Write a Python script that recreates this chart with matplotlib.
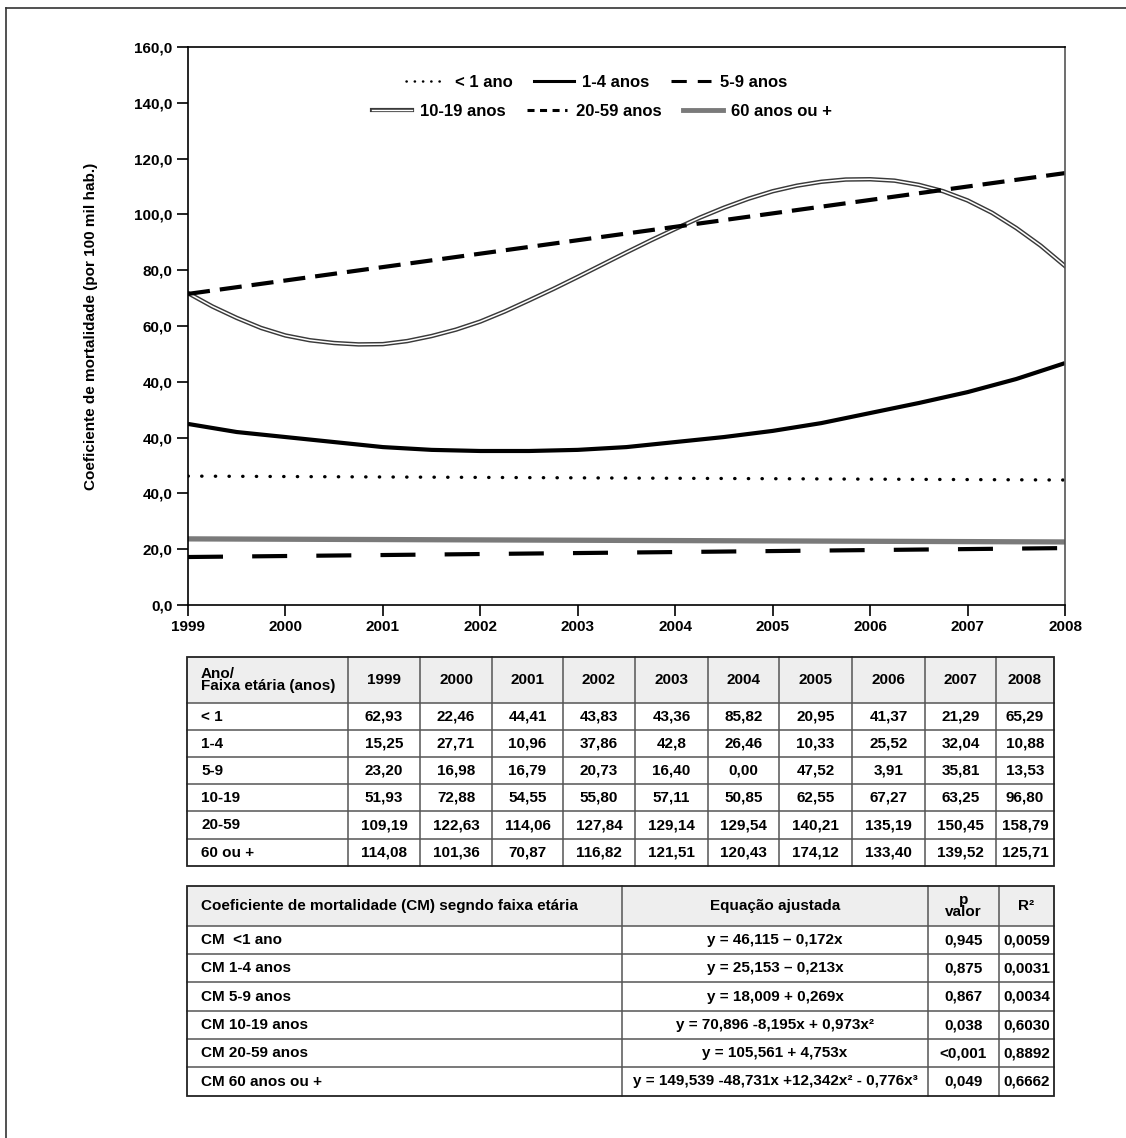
import matplotlib.pyplot as plt
import matplotlib.patheffects as pe
from matplotlib.lines import Line2D
from matplotlib.patches import Rectangle

W, H = 1126, 1138
plt.rcParams["font.family"] = ["Liberation Sans", "DejaVu Sans"]
plt.rcParams["font.weight"] = "bold"

# curve readings (axis position units, one tick = 20)
years_q = [1999, 1999.25, 1999.5, 1999.75, 2000, 2000.25, 2000.5, 2000.75,
           2001, 2001.25, 2001.5, 2001.75, 2002, 2002.25, 2002.5, 2002.75,
           2003, 2003.25, 2003.5, 2003.75, 2004, 2004.25, 2004.5, 2004.75,
           2005, 2005.25, 2005.5, 2005.75, 2006, 2006.25, 2006.5, 2006.75,
           2007, 2007.25, 2007.5, 2007.75, 2008]
cm_10_19 = [111.8, 107.0, 102.9, 99.3, 96.6, 94.9, 93.9, 93.4,
            93.5, 94.6, 96.4, 98.7, 101.6, 105.2, 109.2, 113.3,
            117.6, 122.0, 126.4, 130.7, 134.8, 138.8, 142.4, 145.6,
            148.3, 150.3, 151.7, 152.5, 152.6, 152.1, 150.6, 148.3,
            145.0, 140.6, 135.1, 128.8, 121.5]
years_half = [1999, 1999.5, 2000, 2000.5, 2001, 2001.5, 2002, 2002.5, 2003, 2003.5,
              2004, 2004.5, 2005, 2005.5, 2006, 2006.5, 2007, 2007.5, 2008]
cm_1_4 = [64.9, 62.0, 60.2, 58.4, 56.6, 55.6, 55.2, 55.2, 55.6, 56.6,
          58.4, 60.2, 62.4, 65.2, 68.8, 72.4, 76.3, 81.0, 86.7]
years_ends = [1999, 2008]
cm_lt1 = [46.2, 44.8]
cm_5_9 = [17.2, 20.4]
cm_20_59 = [111.5, 154.8]
cm_60 = [23.7, 22.6]

ytick_labels = ["0,0", "20,0", "40,0", "40,0", "40,0", "60,0",
                "80,0", "100,0", "120,0", "140,0", "160,0"]
year_labels = list(range(1999, 2009))
legend_labels = ["< 1 ano", "1-4 anos", "5-9 anos",
                 "10-19 anos", "20-59 anos", "60 anos ou +"]

# table 1
t1_rows = ["< 1", "1-4", "5-9", "10-19", "20-59", "60 ou +"]
t1_vals = [
    ["62,93", "22,46", "44,41", "43,83", "43,36", "85,82", "20,95", "41,37", "21,29", "65,29"],
    ["15,25", "27,71", "10,96", "37,86", "42,8", "26,46", "10,33", "25,52", "32,04", "10,88"],
    ["23,20", "16,98", "16,79", "20,73", "16,40", "0,00", "47,52", "3,91", "35,81", "13,53"],
    ["51,93", "72,88", "54,55", "55,80", "57,11", "50,85", "62,55", "67,27", "63,25", "96,80"],
    ["109,19", "122,63", "114,06", "127,84", "129,14", "129,54", "140,21", "135,19", "150,45", "158,79"],
    ["114,08", "101,36", "70,87", "116,82", "121,51", "120,43", "174,12", "133,40", "139,52", "125,71"],
]

# table 2
t2_header = ["Coeficiente de mortalidade (CM) segndo faixa etária", "Equação ajustada", "p\nvalor", "R²"]
t2_rows = ["CM  <1 ano", "CM 1-4 anos", "CM 5-9 anos", "CM 10-19 anos", "CM 20-59 anos", "CM 60 anos ou +"]
t2_eq = ["y = 46,115 – 0,172x", "y = 25,153 – 0,213x", "y = 18,009 + 0,269x",
         "y = 70,896 -8,195x + 0,973x²", "y = 105,561 + 4,753x",
         "y = 149,539 -48,731x +12,342x² - 0,776x³"]
t2_p = ["0,945", "0,875", "0,867", "0,038", "<0,001", "0,049"]
t2_r2 = ["0,0059", "0,0031", "0,0034", "0,6030", "0,8892", "0,6662"]

fig = plt.figure(figsize=(W / 100, H / 100), dpi=100)

# page-level overlay in pixel coordinates
tab = fig.add_axes([0, 0, 1, 1])
tab.set_xlim(0, W)
tab.set_ylim(H, 0)
tab.axis("off")
tab.plot([6, W], [8, 8], color="#333333", lw=1.2)
tab.plot([6, 6], [8, H], color="#333333", lw=1.2)

# main chart
ax = fig.add_axes([188 / W, 1 - 605 / H, 877 / W, 558 / H])
ax.set_facecolor("none")
ax.set_xlim(1999, 2008)
ax.set_ylim(0, 200)
ax.set_yticks(range(0, 201, 20))
ax.set_yticklabels(ytick_labels)
ax.set_xticks(year_labels)
ax.set_xticklabels([str(y) for y in year_labels])
ax.tick_params(direction="out", length=8, width=1.2, labelsize=11, pad=3)
for s in ax.spines.values():
    s.set_linewidth(1.2)
ax.spines["right"].set_color("#555555")
ax.set_ylabel("Coeficiente de mortalidade (por 100 mil hab.)", fontsize=11,
              fontweight="bold", labelpad=26)

ribbon = [pe.Stroke(linewidth=3.2, foreground="#3a3a3a"), pe.Normal()]
ax.plot(years_ends, cm_lt1, color="black", lw=2.4,
        linestyle=(0, (0.1, 4.0)), dash_capstyle="round")
ax.plot(years_half, cm_1_4, color="black", lw=3, solid_capstyle="butt")
ax.plot(years_ends, cm_5_9, color="black", lw=3, linestyle=(0, (8.4, 7)))
ax.plot(years_q, cm_10_19, color="white", lw=1.1, path_effects=ribbon)
ax.plot(years_ends, cm_20_59, color="black", lw=3, linestyle=(0, (5.3, 2.4)))
ax.plot(years_ends, cm_60, color="#7a7a7a", lw=3.8, solid_capstyle="butt")

# legend proxies with shorter dash patterns, as in the original legend
h = [
    Line2D([], [], color="black", lw=1.8, linestyle=(0, (0.1, 3.2)), dash_capstyle="round"),
    Line2D([], [], color="black", lw=2.2),
    Line2D([], [], color="black", lw=2.2, linestyle=(0, (5, 3.6))),
    Line2D([], [], color="white", lw=1.0, path_effects=[pe.Stroke(linewidth=3.0, foreground="#3a3a3a"), pe.Normal()]),
    Line2D([], [], color="black", lw=2.2, linestyle=(0, (2.3, 1.8))),
    Line2D([], [], color="#7a7a7a", lw=3.5),
]
leg_kw = dict(ncol=3, frameon=False, fontsize=12, loc="center", handlelength=2.4,
              columnspacing=1.3, handletextpad=0.5)
leg1 = ax.legend(h[:3], legend_labels[:3], bbox_to_anchor=(0.466, 0.937), **leg_kw)
ax.add_artist(leg1)
ax.legend(h[3:], legend_labels[3:], bbox_to_anchor=(0.472, 0.884), **leg_kw)


def draw_table(col_edges, row_edges, cells, aligns, header_rows=1, fs=11):
    x0, x1 = col_edges[0], col_edges[-1]
    y0, y1 = row_edges[0], row_edges[-1]
    tab.add_patch(Rectangle((x0, y0), x1 - x0, row_edges[header_rows] - y0,
                            facecolor="#eeeeee", edgecolor="none", zorder=1))
    for y in row_edges[1:-1]:
        tab.plot([x0, x1], [y, y], color="#555555", lw=1.1, zorder=2)
    for x in col_edges[1:-1]:
        tab.plot([x, x], [y0, y1], color="#555555", lw=1.1, zorder=2)
    tab.add_patch(Rectangle((x0, y0), x1 - x0, y1 - y0, facecolor="none",
                            edgecolor="#222222", lw=1.3, zorder=3))
    for r, row in enumerate(cells):
        yc = (row_edges[r] + row_edges[r + 1]) / 2
        for c, txt in enumerate(row):
            if aligns[c] == "left":
                xt = col_edges[c] + 14
            else:
                xt = (col_edges[c] + col_edges[c + 1]) / 2
            tab.text(xt, yc, txt, ha=aligns[c], va="center", fontsize=fs,
                     fontweight="bold", linespacing=0.85, zorder=4)


t1_cells = [["Ano/\nFaixa etária (anos)"] + [str(y) for y in year_labels]]
t1_cells += [[name] + vals for name, vals in zip(t1_rows, t1_vals)]
draw_table([187, 348, 420, 492, 563, 635, 708, 779, 852, 925, 996, 1054],
           [657, 703, 730, 757, 784, 811, 839, 866],
           t1_cells, ["left"] + ["center"] * 10, fs=11)

t2_cells = [t2_header] + [list(r) for r in zip(t2_rows, t2_eq, t2_p, t2_r2)]
draw_table([187, 622, 928, 999, 1054],
           [886, 926, 954, 982, 1011, 1039, 1067, 1096],
           t2_cells, ["left", "center", "center", "center"], fs=11)

fig.savefig("out.png", dpi=100)
